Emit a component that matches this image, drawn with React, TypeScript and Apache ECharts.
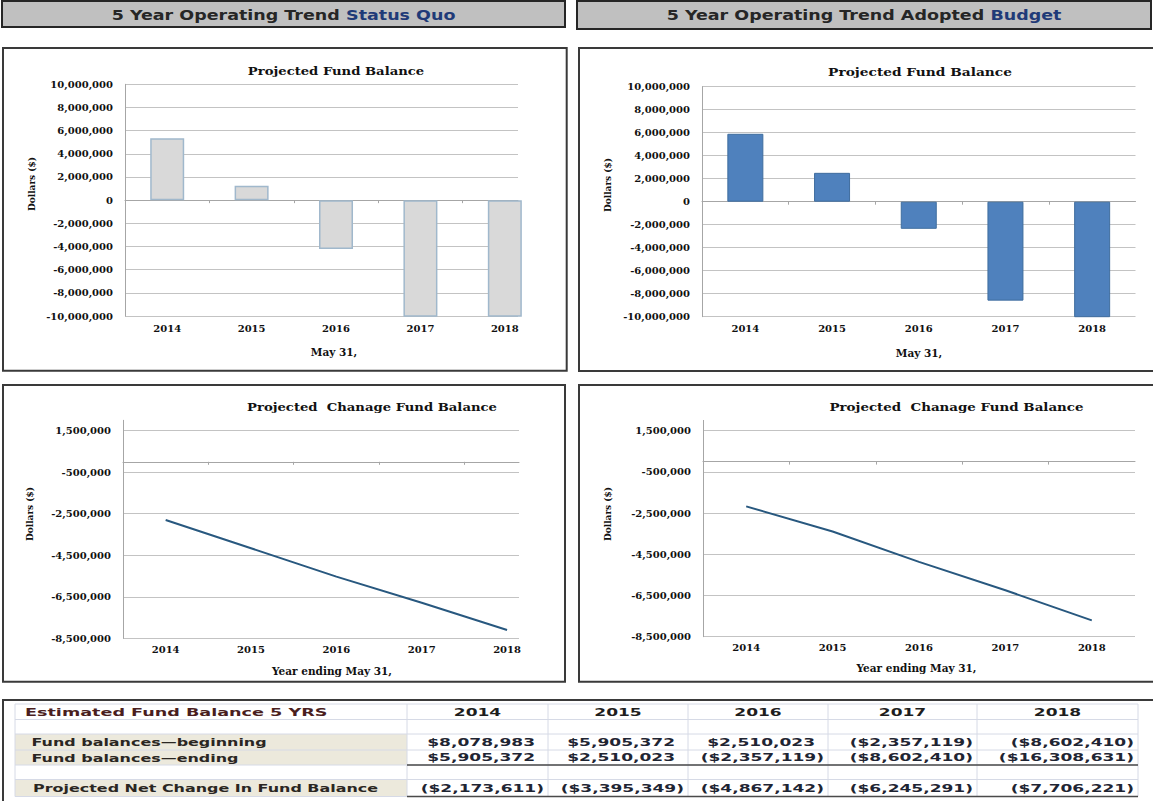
import React, { useEffect, useRef } from 'react';
import * as echarts from 'echarts';

// ---------- data ----------
const years = ['2014', '2015', '2016', '2017', '2018'];
const yearValues = [2014, 2015, 2016, 2017, 2018];
// Status quo
const statusQuoBalance = [5350000, 1250000, -4210000, -11000000, -19100000];
const statusQuoChange = [-2800000, -4160000, -5530000, -6790000, -8100000];
// Adopted budget (table)
const fundBeginning = [8078983, 5905372, 2510023, -2357119, -8602410];
const fundEnding = [5905372, 2510023, -2357119, -8602410, -16308631];
const netChange = [-2173611, -3395349, -4867142, -6245291, -7706221];
// axes
const balanceAxis = { min: -10000000, max: 10000000, step: 2000000 };
const changeAxis = { min: -8500000, max: 2000000, step: 2000000 };
// texts
const headerLeft = ['5 Year Operating Trend ', 'Status Quo'];
const headerRight = ['5 Year Operating Trend Adopted ', 'Budget'];
const balanceTitle = 'Projected Fund Balance';
const changeTitle = 'Projected  Chanage Fund Balance';
const yName = 'Dollars ($)';
const balanceXName = 'May 31,';
const changeXName = 'Year ending May 31,';
const tableTitle = 'Estimated Fund Balance 5 YRS';
const rowLabels = ['Fund balances\u2014beginning', 'Fund balances\u2014ending', 'Projected Net Change In Fund Balance'];

// ---------- layout ----------
const SERIF = '"DejaVu Serif", serif';
const SANS = '"DejaVu Sans", sans-serif';
const grids = [
  { left: 125, top: 84.3, width: 393, height: 231.7 },
  { left: 702, top: 86.7, width: 433.5, height: 230 },
  { left: 123, top: 420.3, width: 396, height: 218 },
  { left: 703, top: 420.4, width: 432, height: 216.3 },
];
const xMax = [2018.156, 2018.5, 2018.14, 2018.5];
const labelMargins = [7, 7, 6, 6];

const fmtAxis = (v: number) => Math.round(v).toLocaleString('en-US');
const fmtMoney = (v: number) => (v < 0 ? '($' + Math.abs(v).toLocaleString('en-US') + ')' : '$' + v.toLocaleString('en-US'));

function xAxesFor(i: number) {
  return [
    {
      gridIndex: i, type: 'value', min: 2013.5, max: xMax[i], position: 'bottom',
      axisLine: { show: false, onZero: false }, axisTick: { show: false }, splitLine: { show: false },
      axisLabel: {
        customValues: yearValues, formatter: (v: number) => String(Math.round(v)), margin: labelMargins[i],
        fontFamily: SERIF, fontWeight: 'bold', fontSize: 10, color: '#111',
      },
    },
    {
      gridIndex: i, type: 'value', min: 2013.5, max: xMax[i], position: 'bottom',
      axisLine: { show: true, onZero: true, lineStyle: { color: '#a6a6a6', width: 1 } },
      axisTick: { show: true, customValues: yearValues.slice(0, -1).map((v) => v + 0.5), length: 3, lineStyle: { color: '#a6a6a6' } },
      axisLabel: { show: false }, splitLine: { show: false },
    },
  ];
}

function yAxisFor(i: number, ax: { min: number; max: number; step: number }, hideMax: boolean) {
  return {
    gridIndex: i, type: 'value', min: ax.min, max: ax.max, interval: ax.step,
    axisLine: { show: true, onZero: false, lineStyle: { color: '#a6a6a6', width: 1 } },
    axisTick: { show: false },
    splitLine: { show: true, showMaxLine: !hideMax, lineStyle: { color: '#c3c3c3', width: 1 } },
    axisLabel: {
      showMaxLabel: !hideMax, showMinLabel: true, margin: 12, formatter: fmtAxis,
      fontFamily: SERIF, fontWeight: 'bold', fontSize: 10, color: '#111',
    },
  };
}

function txt(x: number, y: number, text: string, o: any = {}) {
  const align = o.align || 'center';
  const va = o.va || 'middle';
  return {
    type: 'text', x, y, rotation: o.rotation || 0, scaleX: o.scaleX || 1, z: 10,
    style: {
      text, fill: o.color || '#111', fontSize: o.size || 10, fontFamily: o.family || SERIF,
      fontWeight: o.weight || 'bold', align, verticalAlign: va, textAlign: align, textVerticalAlign: va,
      rich: o.rich,
    },
  };
}

function buildGraphics() {
  const g: any[] = [];
  // header boxes
  g.push({ type: 'rect', z: 1, shape: { x: 2, y: 1, width: 563, height: 26 }, style: { fill: '#c0c0c0', stroke: '#262626', lineWidth: 2 } });
  g.push({ type: 'rect', z: 1, shape: { x: 577, y: 1, width: 574, height: 28 }, style: { fill: '#c0c0c0', stroke: '#262626', lineWidth: 2 } });
  const headRich = {
    a: { fill: '#262626', fontSize: 14, fontFamily: SANS, fontWeight: 'bold' },
    b: { fill: '#1f3a78', fontSize: 14, fontFamily: SANS, fontWeight: 'bold' },
  };
  g.push(txt(283.5, 15, '{a|' + headerLeft[0] + '}{b|' + headerLeft[1] + '}', { rich: headRich, family: SANS, size: 14, scaleX: 1.25 }));
  g.push(txt(864, 15, '{a|' + headerRight[0] + '}{b|' + headerRight[1] + '}', { rich: headRich, family: SANS, size: 14, scaleX: 1.25 }));

  // chart panels
  const panel = (x: number, y: number, w: number, h: number) => ({ type: 'rect', z: 1, shape: { x, y, width: w, height: h }, style: { fill: 'none', stroke: '#3a3a3a', lineWidth: 2 } });
  g.push(panel(3, 48, 563.7, 322.7));
  g.push(panel(579, 48, 590, 323));
  g.push(panel(3, 385, 562, 296.7));
  g.push(panel(579, 385, 590, 296.7));

  // chart titles and axis names
  g.push(txt(336, 71, balanceTitle, { size: 11, scaleX: 1.2 }));
  g.push(txt(920, 72, balanceTitle, { size: 11, scaleX: 1.25 }));
  g.push(txt(372, 407, changeTitle, { size: 11, scaleX: 1.2 }));
  g.push(txt(956.5, 407, changeTitle, { size: 11, scaleX: 1.22 }));
  g.push(txt(32, 184, yName, { size: 9, rotation: Math.PI / 2 }));
  g.push(txt(608, 185, yName, { size: 9, rotation: Math.PI / 2 }));
  g.push(txt(30, 514, yName, { size: 9, rotation: Math.PI / 2 }));
  g.push(txt(608, 514, yName, { size: 9, rotation: Math.PI / 2 }));
  g.push(txt(334, 352, balanceXName, { size: 10.5 }));
  g.push(txt(919, 353, balanceXName, { size: 10.5 }));
  g.push(txt(332, 670.5, changeXName, { size: 10.5 }));
  g.push(txt(916.5, 668, changeXName, { size: 10.5 }));

  // table frame
  g.push({ type: 'rect', z: 1, shape: { x: 3, y: 700, width: 1170, height: 120 }, style: { fill: 'none', stroke: '#3a3a3a', lineWidth: 2 } });
  const colEdges = [15, 407, 548, 688, 828, 977, 1138];
  const rowEdges = [704, 719.5, 734, 750, 765, 779.5, 796.5];
  const beige = '#ece9dc';
  g.push({ type: 'rect', z: 2, shape: { x: colEdges[0], y: rowEdges[2], width: colEdges[1] - colEdges[0], height: rowEdges[4] - rowEdges[2] }, style: { fill: beige } });
  g.push({ type: 'rect', z: 2, shape: { x: colEdges[0], y: rowEdges[5], width: colEdges[1] - colEdges[0], height: rowEdges[6] - rowEdges[5] }, style: { fill: beige } });
  const light = '#d6dae6';
  rowEdges.forEach((y, k) => {
    const dark = k === 4 || k === 6;
    g.push({ type: 'line', z: 3, shape: { x1: colEdges[0], y1: y, x2: colEdges[6], y2: y }, style: { stroke: light, lineWidth: 1 } });
    if (dark) g.push({ type: 'line', z: 4, shape: { x1: colEdges[1], y1: y, x2: colEdges[6], y2: y }, style: { stroke: '#4a4a4a', lineWidth: 1.5 } });
  });
  colEdges.forEach((x) => {
    g.push({ type: 'line', z: 3, shape: { x1: x, y1: rowEdges[0], x2: x, y2: rowEdges[6] }, style: { stroke: light, lineWidth: 1 } });
  });
  const tOpt = (color: string, align = 'left', scaleX = 1.55) => ({ family: SANS, size: 11, scaleX, color, align });
  g.push(txt(25, 712, tableTitle, tOpt('#4a1e1e', 'left', 1.6)));
  g.push(txt(31.5, 742, rowLabels[0], tOpt('#2a2622', 'left', 1.45)));
  g.push(txt(31.5, 757.5, rowLabels[1], tOpt('#2a2622', 'left', 1.45)));
  g.push(txt(33, 788, rowLabels[2], tOpt('#2a2622', 'left', 1.45)));
  years.forEach((yr, c) => {
    const cx = (colEdges[c + 1] + colEdges[c + 2]) / 2;
    g.push(txt(cx, 712, yr, tOpt('#1e1e1e', 'center')));
    const right = colEdges[c + 2] - 4;
    const rows: [number[], number][] = [[fundBeginning, 742], [fundEnding, 757.5], [netChange, 788]];
    rows.forEach(([arr, y]) => {
      const v = arr[c];
      g.push(txt(v < 0 ? right : right - 9, y, fmtMoney(v), tOpt('#1f2533', 'right')));
    });
  });
  return g;
}

const option: any = {
  animation: false,
  backgroundColor: '#ffffff',
  grid: grids.map((gr) => ({ ...gr, containLabel: false, outerBoundsMode: 'none' })),
  xAxis: [0, 1, 2, 3].flatMap((i) => xAxesFor(i)),
  yAxis: [
    yAxisFor(0, balanceAxis, false),
    yAxisFor(1, balanceAxis, false),
    yAxisFor(2, changeAxis, true),
    yAxisFor(3, changeAxis, true),
  ],
  series: [
    {
      type: 'bar', xAxisIndex: 0, yAxisIndex: 0, barWidth: 34, clip: true,
      data: statusQuoBalance.map((v, k) => [yearValues[k], v]),
      itemStyle: { color: '#d9d9d9', borderColor: '#a0b8cc', borderWidth: 1.5 },
    },
    {
      type: 'bar', xAxisIndex: 2, yAxisIndex: 1, barWidth: 36, clip: true,
      data: fundEnding.map((v, k) => [yearValues[k], v]),
      itemStyle: { color: '#4f81bd', borderColor: '#3f6d9e', borderWidth: 1 },
    },
    {
      type: 'line', xAxisIndex: 4, yAxisIndex: 2, symbol: 'none', clip: true,
      data: statusQuoChange.map((v, k) => [yearValues[k], v]),
      lineStyle: { color: '#28587f', width: 2 },
    },
    {
      type: 'line', xAxisIndex: 6, yAxisIndex: 3, symbol: 'none', clip: true,
      data: netChange.map((v, k) => [yearValues[k], v]),
      lineStyle: { color: '#28587f', width: 2 },
    },
  ],
  graphic: { elements: buildGraphics() },
};

export default function App() {
  const ref = useRef<HTMLDivElement>(null);
  useEffect(() => {
    const chart = echarts.init(ref.current as HTMLDivElement, null, { renderer: 'svg' });
    chart.setOption(option);
    return () => chart.dispose();
  }, []);
  return (
    <div
      ref={ref}
      style={{ position: 'fixed', left: 0, top: 0, width: 1153, height: 801, background: '#ffffff' }}
    />
  );
}
